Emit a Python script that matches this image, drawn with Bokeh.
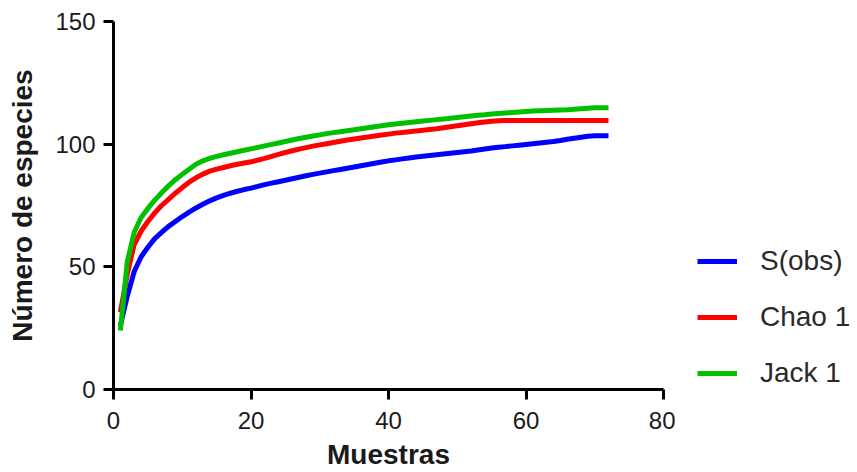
from bokeh.plotting import figure
from bokeh.layouts import row
from bokeh.models import Legend, LegendItem, FixedTicker, Range1d
from bokeh.embed import file_html
from bokeh.resources import INLINE

muestras = list(range(1, 73))

s_obs = [26, 38, 48, 54, 58, 61.5, 64, 66.5, 68.5, 70.5, 72.3, 74,
         75.5, 76.9, 78.1, 79.1, 80.0, 80.8, 81.5, 82.1, 82.8, 83.5, 84.1, 84.7,
         85.3, 85.9, 86.5, 87.1, 87.7, 88.2, 88.7, 89.2, 89.7, 90.2, 90.7, 91.2,
         91.7, 92.2, 92.7, 93.2, 93.6, 94.0, 94.4, 94.8, 95.1, 95.4, 95.7, 96.0,
         96.3, 96.6, 96.9, 97.2, 97.6, 98.0, 98.4, 98.7, 99.0, 99.3, 99.6, 99.9,
         100.2, 100.5, 100.8, 101.1, 101.5, 102.0, 102.4, 102.8, 103.2, 103.4, 103.4, 103.4]

chao1 = [31.5, 47, 59, 64.5, 68.5, 72, 75, 77.5, 80, 82.3, 84.5, 86.3,
         87.8, 89, 89.8, 90.5, 91.2, 91.8, 92.3, 92.8, 93.5, 94.2, 95, 95.8,
         96.6, 97.3, 98, 98.6, 99.2, 99.7, 100.2, 100.7, 101.2, 101.7, 102.1, 102.5,
         102.9, 103.3, 103.7, 104.1, 104.5, 104.8, 105.1, 105.4, 105.7, 106.0, 106.3, 106.7,
         107.1, 107.5, 107.9, 108.3, 108.7, 109.0, 109.3, 109.5, 109.6, 109.6, 109.6, 109.6,
         109.6, 109.6, 109.6, 109.6, 109.6, 109.6, 109.6, 109.6, 109.6, 109.6, 109.6, 109.6]

jack1 = [24, 52, 64, 70, 73.8, 77.2, 80.2, 83, 85.5, 87.7, 89.8, 91.8,
         93.2, 94.2, 95, 95.7, 96.3, 96.9, 97.5, 98.1, 98.7, 99.3, 99.9, 100.5,
         101.1, 101.7, 102.3, 102.8, 103.3, 103.8, 104.3, 104.7, 105.1, 105.5, 105.9, 106.3,
         106.7, 107.1, 107.5, 107.9, 108.2, 108.5, 108.8, 109.1, 109.4, 109.7, 110.0, 110.3,
         110.6, 110.9, 111.2, 111.5, 111.8, 112.0, 112.3, 112.5, 112.7, 112.9, 113.1, 113.3,
         113.5, 113.6, 113.7, 113.8, 113.9, 114.0, 114.2, 114.4, 114.6, 114.8, 114.8, 114.8]

x_ticks = [0, 20, 40, 60, 80]
y_ticks = [0, 50, 100, 150]
series_names = ["S(obs)", "Chao 1", "Jack 1"]
colors = ["#0000FF", "#FF0000", "#00C000"]

FONT = "Liberation Sans"
H = 472

p = figure(width=675, height=H, x_range=Range1d(0, 80), y_range=Range1d(0, 150),
           output_backend="svg", toolbar_location=None,
           min_border_left=113, min_border_right=12, min_border_top=21, min_border_bottom=83)
p.outline_line_color = None
p.xgrid.visible = False
p.ygrid.visible = False

p.xaxis.ticker = FixedTicker(ticks=x_ticks)
p.yaxis.ticker = FixedTicker(ticks=y_ticks)
for ax in (p.xaxis, p.yaxis):
    ax.axis_line_width = 3
    ax.axis_line_color = "black"
    ax.major_tick_line_width = 3
    ax.major_tick_line_color = "black"
    ax.major_tick_out = 10
    ax.major_tick_in = 0
    ax.minor_tick_line_color = None
    ax.major_label_text_font = FONT
    ax.major_label_text_font_size = "24px"
    ax.major_label_text_color = "#1a1a1a"
    ax.axis_label_text_font = FONT
    ax.axis_label_text_font_size = "28px"
    ax.axis_label_text_font_style = "bold"
    ax.axis_label_text_color = "#1a1a1a"

p.xaxis.axis_label = "Muestras"
p.yaxis.axis_label = "Número de especies"
p.xaxis.major_label_standoff = 12
p.xaxis.axis_label_standoff = 7
p.yaxis.major_label_standoff = 8
p.yaxis.axis_label_standoff = 14

for ys, c in zip([s_obs, chao1, jack1], colors):
    p.line(muestras, ys, line_color=c, line_width=5)

# legend panel: same series drawn out of view, only their legend entries show
q = figure(width=857 - 675, height=H, x_range=Range1d(1000, 1001), y_range=Range1d(1000, 1001),
           output_backend="svg", toolbar_location=None,
           min_border_left=0, min_border_right=0, min_border_top=0, min_border_bottom=0)
q.axis.visible = False
q.grid.visible = False
q.outline_line_color = None
leg_renderers = []
for ys, c in zip([s_obs, chao1, jack1], colors):
    leg_renderers.append(q.line(muestras, ys, line_color=c, line_width=5))

legend = Legend(items=[LegendItem(label=n, renderers=[r]) for n, r in zip(series_names, leg_renderers)],
                location=(22, 0), orientation="vertical",
                glyph_width=40, glyph_height=30, label_height=30, spacing=24,
                label_standoff=23, padding=0, margin=0, border_line_color=None,
                background_fill_alpha=0,
                label_text_font=FONT, label_text_font_size="28px",
                label_text_color="#2a2a2a")
q.add_layout(legend)

layout = row(p, q)
open("out.html", "w").write(file_html(layout, INLINE))
